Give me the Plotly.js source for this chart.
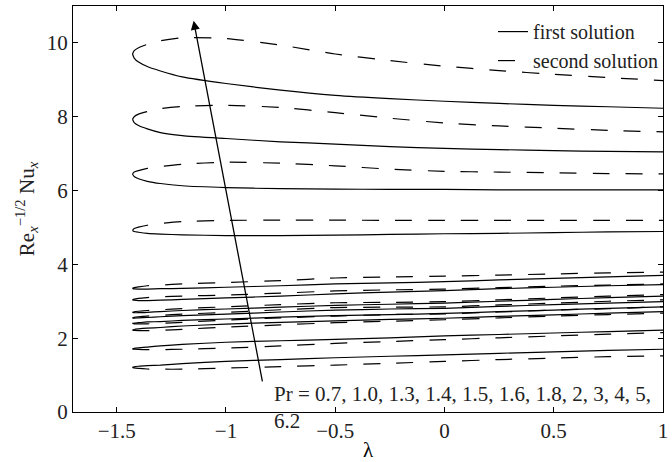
<!DOCTYPE html>
<html>
<head>
<meta charset="utf-8">
<script src="https://cdn.plot.ly/plotly-3.0.1.min.js"></script>
<style>
  body { margin: 0; background: #fff; }
  #graph { width: 672px; height: 462px; }
</style>
</head>
<body>
<div id="graph"></div>
<script>
var lambda = [-1.4276, -1.42, -1.40, -1.36, -1.30, -1.20, -1.0, -0.75, -0.5, -0.25, 0, 0.25, 0.5, 0.75, 1.0];

var prLabels = ['0.7', '1.0', '1.3', '1.4', '1.5', '1.6', '1.8', '2', '3', '4', '5', '6.2'];

// Re_x^-1/2 Nu_x, first solution (solid) and second solution (dashed)
var first_07  = [1.21, 1.225, 1.24, 1.255, 1.27, 1.31, 1.37, 1.42, 1.47, 1.51, 1.55, 1.59, 1.63, 1.67, 1.70];
var second_07 = [1.21, 1.195, 1.18, 1.165, 1.16, 1.16, 1.19, 1.23, 1.27, 1.32, 1.37, 1.42, 1.46, 1.50, 1.52];
var first_10  = [1.71, 1.725, 1.74, 1.76, 1.79, 1.83, 1.89, 1.93, 1.97, 2.01, 2.06, 2.10, 2.14, 2.18, 2.22];
var second_10 = [1.71, 1.70, 1.695, 1.69, 1.69, 1.70, 1.73, 1.79, 1.86, 1.91, 1.96, 2.01, 2.06, 2.11, 2.15];
var first_13  = [2.22, 2.235, 2.25, 2.27, 2.29, 2.33, 2.38, 2.43, 2.47, 2.51, 2.54, 2.59, 2.63, 2.68, 2.72];
var second_13 = [2.22, 2.21, 2.205, 2.205, 2.21, 2.24, 2.30, 2.36, 2.42, 2.46, 2.50, 2.55, 2.60, 2.64, 2.68];
var first_14  = [2.40, 2.41, 2.42, 2.44, 2.45, 2.48, 2.52, 2.57, 2.61, 2.64, 2.67, 2.72, 2.76, 2.81, 2.85];
var second_14 = [2.40, 2.39, 2.385, 2.39, 2.40, 2.43, 2.49, 2.55, 2.60, 2.64, 2.66, 2.71, 2.76, 2.80, 2.85];
var first_15  = [2.55, 2.545, 2.55, 2.56, 2.58, 2.61, 2.65, 2.71, 2.76, 2.79, 2.81, 2.86, 2.91, 2.95, 2.99];
var second_15 = [2.55, 2.565, 2.58, 2.60, 2.62, 2.65, 2.70, 2.77, 2.83, 2.84, 2.85, 2.90, 2.95, 3.00, 3.04];
var first_16  = [2.70, 2.69, 2.69, 2.70, 2.72, 2.75, 2.79, 2.84, 2.89, 2.92, 2.95, 3.00, 3.05, 3.10, 3.14];
var second_16 = [2.70, 2.715, 2.73, 2.75, 2.77, 2.80, 2.85, 2.91, 2.96, 2.97, 2.99, 3.04, 3.09, 3.14, 3.18];
var first_18  = [3.04, 3.03, 3.02, 3.02, 3.03, 3.05, 3.09, 3.14, 3.20, 3.25, 3.29, 3.34, 3.38, 3.42, 3.45];
var second_18 = [3.04, 3.06, 3.08, 3.10, 3.12, 3.14, 3.17, 3.22, 3.28, 3.31, 3.33, 3.37, 3.41, 3.44, 3.47];
var first_2   = [3.35, 3.335, 3.33, 3.33, 3.34, 3.35, 3.38, 3.42, 3.47, 3.50, 3.53, 3.58, 3.62, 3.66, 3.70];
var second_2  = [3.35, 3.37, 3.39, 3.42, 3.44, 3.47, 3.51, 3.56, 3.63, 3.66, 3.68, 3.71, 3.74, 3.77, 3.79];
var first_3   = [4.92, 4.89, 4.87, 4.84, 4.82, 4.80, 4.78, 4.78, 4.79, 4.81, 4.83, 4.84, 4.86, 4.88, 4.89];
var second_3  = [4.92, 4.97, 5.01, 5.06, 5.11, 5.16, 5.19, 5.20, 5.20, 5.19, 5.19, 5.19, 5.19, 5.19, 5.19];
var first_4   = [6.45, 6.38, 6.32, 6.25, 6.19, 6.13, 6.08, 6.05, 6.04, 6.03, 6.03, 6.02, 6.02, 6.02, 6.02];
var second_4  = [6.45, 6.50, 6.54, 6.60, 6.65, 6.71, 6.77, 6.74, 6.67, 6.58, 6.52, 6.50, 6.48, 6.46, 6.45];
var first_5   = [7.93, 7.84, 7.76, 7.67, 7.57, 7.49, 7.41, 7.32, 7.26, 7.19, 7.14, 7.11, 7.08, 7.06, 7.05];
var second_5  = [7.93, 8.00, 8.07, 8.14, 8.22, 8.28, 8.31, 8.25, 8.11, 7.96, 7.83, 7.75, 7.69, 7.63, 7.59];
var first_62  = [9.70, 9.59, 9.48, 9.36, 9.24, 9.08, 8.90, 8.72, 8.58, 8.49, 8.42, 8.36, 8.31, 8.27, 8.23];
var second_62 = [9.70, 9.79, 9.87, 9.96, 10.06, 10.14, 10.12, 9.94, 9.70, 9.52, 9.37, 9.25, 9.15, 9.06, 8.98];

var firstSets  = [first_07, first_10, first_13, first_14, first_15, first_16, first_18, first_2, first_3, first_4, first_5, first_62];
var secondSets = [second_07, second_10, second_13, second_14, second_15, second_16, second_18, second_2, second_3, second_4, second_5, second_62];

// arrow from the label up through the curves (direction of increasing Pr)
var arrowTail = [-0.832, 0.79];
var arrowHead = [-1.148, 10.6];

var FONT = 'Liberation Serif, Times New Roman, serif';
var DASH = '17px,16px';

var data = [];
for (var i = 0; i < prLabels.length; i++) {
    data.push({
        x: lambda, y: firstSets[i],
        mode: 'lines',
        line: {color: 'black', width: 1.2, shape: 'spline', smoothing: 0.6},
        name: 'first solution',
        legendgroup: 'first',
        showlegend: i === 0
    });
    data.push({
        x: lambda, y: secondSets[i],
        mode: 'lines',
        line: {color: 'black', width: 1.2, dash: DASH, shape: 'spline', smoothing: 0.6},
        name: 'second solution',
        legendgroup: 'second',
        showlegend: i === 0
    });
}

var layout = {
    width: 672,
    height: 462,
    margin: {l: 73, r: 9, t: 6, b: 50},
    paper_bgcolor: 'white',
    plot_bgcolor: 'white',
    font: {family: FONT, size: 21, color: 'black'},
    showlegend: true,
    legend: {
        x: 1, xanchor: 'right', y: 0.985, yanchor: 'top',
        bgcolor: 'rgba(0,0,0,0)',
        font: {family: FONT, size: 20, color: '#222'},
        tracegroupgap: 0
    },
    xaxis: {
        range: [-1.7, 1],
        dtick: 0.5,
        tick0: 0,
        ticks: 'inside',
        ticklen: 5,
        tickcolor: 'black',
        showline: true,
        linecolor: 'black',
        linewidth: 1,
        mirror: 'ticks',
        showgrid: false,
        zeroline: false,
        tickfont: {family: FONT, size: 21, color: '#222'},
        title: {text: 'λ', font: {family: FONT, size: 21}, standoff: 0}
    },
    yaxis: {
        range: [0, 11],
        dtick: 2,
        tick0: 0,
        ticks: 'inside',
        ticklen: 5,
        tickcolor: 'black',
        showline: true,
        linecolor: 'black',
        linewidth: 1,
        mirror: 'ticks',
        showgrid: false,
        zeroline: false,
        tickfont: {family: FONT, size: 21, color: '#222'},
        title: {text: 'Re<sub><i>x</i></sub><sup>−1/2</sup> Nu<sub><i>x</i></sub>', font: {family: FONT, size: 21, color: '#222'}, standoff: 6}
    },
    annotations: [
        {
            x: arrowHead[0], y: arrowHead[1], xref: 'x', yref: 'y',
            ax: arrowTail[0], ay: arrowTail[1], axref: 'x', ayref: 'y',
            text: '', showarrow: true,
            arrowhead: 2, arrowsize: 1.4, arrowwidth: 1.3, arrowcolor: 'black'
        },
        {
            x: -0.79, y: 0.88, xref: 'x', yref: 'y',
            xanchor: 'left', yanchor: 'top', align: 'left',
            showarrow: false,
            text: 'Pr = ' + prLabels.slice(0, 11).join(', ') + ',<br>' + prLabels[11],
            font: {family: FONT, size: 21, color: '#222'}
        }
    ]
};

Plotly.newPlot('graph', data, layout, {staticPlot: true});
</script>
</body>
</html>
